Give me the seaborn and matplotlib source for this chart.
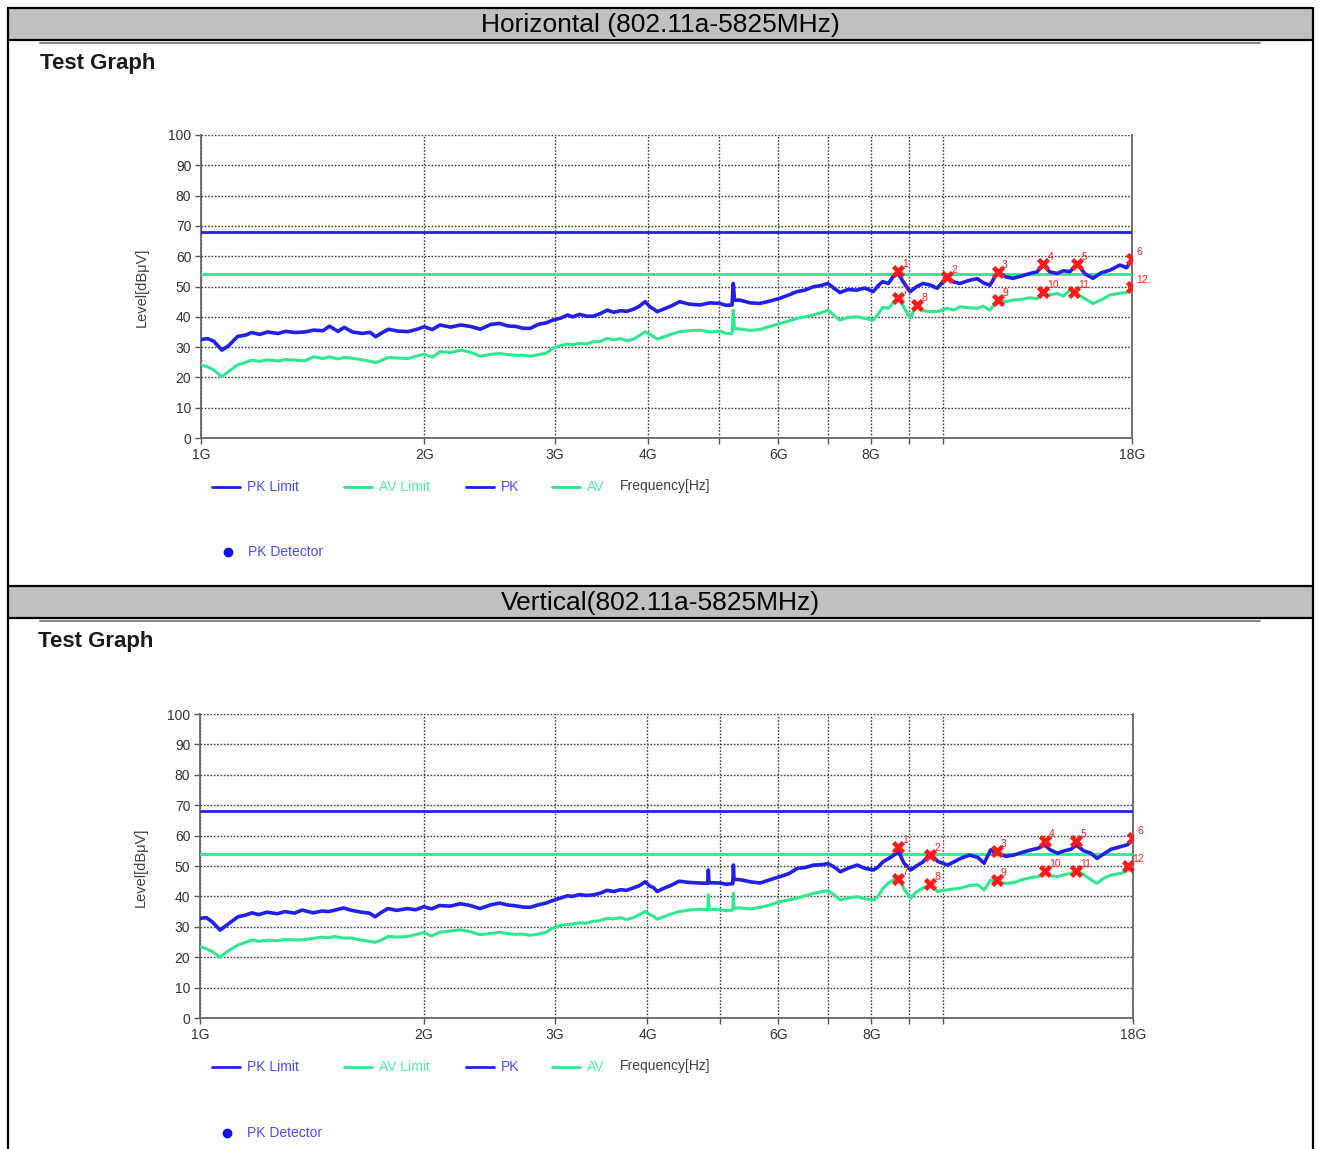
import pandas as pd
import matplotlib.pyplot as plt
import seaborn as sns
from matplotlib.patches import Rectangle
from matplotlib.lines import Line2D

# ### Chart data
PK_LIMIT = 68
AV_LIMIT = 54

# Horizontal polarisation, frequency in GHz, level in dBuV
h_freq = [1.00, 1.02, 1.04, 1.067, 1.09, 1.12, 1.15, 1.17, 1.20, 1.23,
          1.27, 1.30, 1.34, 1.38, 1.42, 1.46, 1.49, 1.53, 1.56, 1.60,
          1.65, 1.69, 1.72, 1.75, 1.79, 1.84, 1.90, 1.95, 2.00, 2.05,
          2.10, 2.17, 2.24, 2.31, 2.38, 2.46, 2.53, 2.59, 2.66, 2.72,
          2.78, 2.85, 2.92, 2.98, 3.05, 3.12, 3.17, 3.24, 3.31, 3.38,
          3.45, 3.53, 3.60, 3.68, 3.75, 3.83, 3.90, 3.97, 4.03, 4.08,
          4.12, 4.20, 4.30, 4.42, 4.55, 4.71, 4.85, 5.01, 5.10, 5.20,
          5.22, 5.24, 5.33, 5.50, 5.67, 5.85, 6.03, 6.20, 6.36, 6.52,
          6.69, 6.85, 7.00, 7.14, 7.27, 7.45, 7.66, 7.85, 8.06, 8.18,
          8.30, 8.45, 8.57, 8.71, 8.85, 9.04, 9.23, 9.41, 9.62, 9.83,
          10.14, 10.35, 10.55, 10.85, 11.13, 11.35, 11.58, 11.87, 12.15, 12.44,
          12.78, 13.12, 13.40, 13.66, 13.95, 14.26, 14.55, 14.85, 15.18, 15.55,
          15.94, 16.35, 16.81, 17.34, 17.70, 18.00]
h_pk = [32.5, 32.8, 32.0, 29.0, 30.5, 33.5, 34.0, 34.8, 34.2, 35.0,
        34.5, 35.2, 34.8, 35.0, 35.6, 35.4, 36.9, 35.2, 36.5, 35.0,
        34.5, 34.9, 33.4, 34.6, 35.9, 35.3, 35.1, 35.8, 36.7, 35.8,
        37.3, 36.6, 37.3, 36.8, 35.9, 37.5, 37.8, 37.0, 36.8, 36.2,
        36.2, 37.5, 38.0, 38.9, 39.5, 40.6, 40.0, 40.8, 40.2, 40.2,
        41.0, 42.2, 41.5, 42.0, 41.8, 42.5, 43.5, 45.0, 43.3, 42.5,
        41.7, 42.5, 43.5, 45.0, 44.2, 43.9, 44.6, 44.4, 43.8, 43.9,
        51.0, 45.5, 45.5, 44.6, 44.4, 45.2, 46.1, 47.2, 48.3, 48.8,
        49.9, 50.3, 51.0, 49.4, 48.0, 49.0, 48.8, 49.5, 48.3, 50.2,
        51.6, 51.0, 53.2, 54.3, 51.5, 48.3, 50.0, 51.0, 50.5, 49.4,
        53.2, 51.5, 51.0, 52.0, 52.6, 51.2, 50.4, 54.9, 53.2, 52.7,
        53.5, 54.3, 54.8, 57.1, 54.8, 54.3, 55.2, 54.9, 57.6, 54.2,
        52.7, 54.5, 55.4, 57.1, 56.2, 58.7]
h_av = [24.1, 23.5, 22.5, 20.2, 22.0, 24.1, 25.0, 25.7, 25.3, 25.8,
        25.4, 25.9, 25.7, 25.5, 26.8, 26.2, 26.8, 26.1, 26.6, 26.3,
        25.8, 25.3, 24.9, 25.6, 26.6, 26.4, 26.2, 27.0, 27.7, 26.6,
        28.5, 28.2, 29.0, 28.3, 27.0, 27.6, 27.9, 27.5, 27.3, 27.3,
        27.0, 27.5, 28.0, 29.6, 30.5, 31.0, 30.8, 31.2, 31.0, 31.8,
        31.8, 32.9, 32.4, 32.8, 32.1, 32.6, 33.8, 35.1, 34.2, 33.4,
        32.6, 33.3, 34.2, 35.1, 35.4, 35.6, 35.0, 35.3, 34.5, 34.5,
        42.2, 36.1, 36.0, 35.5, 35.8, 36.8, 37.8, 38.6, 39.5, 40.0,
        40.6, 41.3, 42.2, 40.5, 38.9, 39.8, 40.0, 39.5, 38.9, 40.8,
        43.1, 42.8, 44.5, 46.6, 43.5, 39.5, 44.0, 42.0, 41.7, 41.7,
        42.8, 42.2, 43.3, 43.0, 42.8, 43.5, 42.2, 45.5, 45.0, 45.5,
        45.8, 46.3, 46.0, 47.7, 47.2, 47.7, 46.8, 48.8, 47.5, 46.0,
        44.4, 45.5, 47.2, 47.8, 48.0, 49.4]
h_pk_mark_freq = [8.71, 10.14, 11.87, 13.66, 15.18, 18.0]
h_pk_mark_level = [55.1, 53.1, 54.8, 57.4, 57.4, 59.1]
h_av_mark_freq = [8.71, 9.23, 11.87, 13.66, 15.05, 18.0]
h_av_mark_level = [46.2, 43.9, 45.5, 48.2, 48.2, 49.8]

# Vertical polarisation
v_freq = [1.00, 1.02, 1.04, 1.064, 1.09, 1.125, 1.15, 1.175, 1.20, 1.23,
          1.27, 1.30, 1.34, 1.372, 1.42, 1.46, 1.49, 1.519, 1.56, 1.60,
          1.65, 1.69, 1.72, 1.75, 1.79, 1.84, 1.90, 1.95, 2.00, 2.05,
          2.10, 2.17, 2.24, 2.31, 2.38, 2.46, 2.53, 2.59, 2.66, 2.72,
          2.78, 2.85, 2.92, 2.98, 3.05, 3.12, 3.17, 3.24, 3.31, 3.38,
          3.45, 3.53, 3.60, 3.68, 3.75, 3.83, 3.90, 3.97, 4.03, 4.08,
          4.12, 4.20, 4.30, 4.41, 4.55, 4.70, 4.82, 4.83, 4.84, 5.01,
          5.10, 5.21, 5.22, 5.23, 5.33, 5.50, 5.67, 5.85, 6.03, 6.20,
          6.36, 6.52, 6.69, 6.85, 7.00, 7.14, 7.27, 7.45, 7.66, 7.85,
          8.06, 8.18, 8.30, 8.45, 8.57, 8.71, 8.85, 9.04, 9.20, 9.40,
          9.60, 9.83, 10.14, 10.55, 10.85, 11.13, 11.35, 11.58, 11.85, 12.15,
          12.44, 12.78, 13.12, 13.40, 13.70, 13.95, 14.26, 14.55, 14.85, 15.10,
          15.45, 15.80, 16.10, 16.45, 16.81, 17.34, 17.70, 18.00]
v_pk = [32.8, 33.0, 31.5, 28.9, 30.8, 33.3, 33.8, 34.6, 34.0, 34.8,
        34.3, 35.0, 34.5, 35.5, 34.6, 35.2, 35.0, 35.5, 36.2, 35.4,
        34.8, 34.5, 33.3, 34.6, 36.0, 35.4, 36.0, 35.6, 36.6, 35.9,
        37.0, 36.8, 37.6, 37.0, 36.0, 37.2, 37.8, 37.2, 36.9, 36.5,
        36.4, 37.2, 37.8, 38.6, 39.4, 40.2, 40.0, 40.6, 40.3, 40.5,
        41.0, 42.0, 41.6, 42.2, 42.0, 42.8, 43.5, 44.8, 43.4, 42.8,
        41.6, 42.6, 43.6, 45.0, 44.6, 44.4, 44.3, 48.7, 44.5, 44.4,
        44.0, 44.2, 50.3, 45.6, 45.5, 44.8, 44.4, 45.5, 46.5, 47.5,
        49.2, 49.5, 50.3, 50.4, 50.8, 49.6, 48.1, 49.3, 50.3, 49.2,
        48.7, 49.8, 51.4, 52.5, 53.5, 54.7, 51.0, 48.7, 50.0, 51.4,
        54.2, 51.5, 50.3, 52.5, 53.6, 52.8, 50.9, 55.3, 54.0, 53.2,
        53.6, 54.5, 55.3, 55.8, 56.9, 55.2, 54.2, 55.0, 55.5, 56.9,
        55.0, 54.2, 52.5, 54.0, 55.5, 56.4, 57.0, 59.2]
v_av = [23.5, 22.8, 21.8, 20.0, 22.0, 24.0, 24.8, 25.7, 25.2, 25.6,
        25.4, 25.8, 25.7, 25.7, 26.2, 26.6, 26.4, 26.8, 26.3, 26.3,
        25.6, 25.2, 24.9, 25.5, 26.8, 26.6, 26.8, 27.4, 28.1, 27.0,
        28.2, 28.6, 29.0, 28.4, 27.4, 27.8, 28.2, 27.8, 27.5, 27.6,
        27.2, 27.6, 28.2, 29.5, 30.4, 30.8, 30.9, 31.3, 31.2, 31.8,
        32.0, 32.8, 32.6, 33.0, 32.4, 33.0, 34.0, 35.0, 34.0, 33.4,
        32.5, 33.2, 34.2, 35.0, 35.5, 35.8, 35.6, 40.5, 35.8, 35.6,
        35.3, 35.5, 41.0, 36.1, 36.2, 35.9, 36.4, 37.2, 38.3, 38.8,
        39.4, 40.2, 41.0, 41.5, 41.9, 40.4, 38.8, 39.5, 39.9, 39.2,
        38.8, 40.2, 42.7, 44.5, 45.5, 46.5, 42.5, 39.4, 41.5, 42.8,
        43.8, 41.6, 42.2, 42.7, 43.6, 43.8, 42.1, 45.4, 44.6, 44.3,
        44.5, 45.5, 46.2, 46.5, 47.6, 46.8, 46.5, 47.2, 47.5, 48.7,
        47.2, 45.5, 44.3, 46.0, 47.0, 47.6, 48.4, 49.8]
v_pk_mark_freq = [8.70, 9.60, 11.80, 13.70, 15.10, 18.0]
v_pk_mark_level = [56.3, 53.6, 54.9, 58.2, 58.2, 59.2]
v_av_mark_freq = [8.70, 9.60, 11.80, 13.70, 15.10, 17.72]
v_av_mark_level = [45.7, 44.1, 45.4, 48.4, 48.4, 50.0]

x_ticks = [1, 2, 3, 4, 5, 6, 7, 8, 9, 10, 18]
x_tick_labels = ["1G", "2G", "3G", "4G", "", "6G", "", "8G", "", "", "18G"]
y_ticks = list(range(0, 101, 10))

PK_COLOR = "#2020e8"
AV_COLOR = "#2ee88f"
MARK_COLOR = "#ff1a1a"

W, H = 1321, 1149

sns.set_theme(style="white")
plt.rcParams['font.family'] = ['Liberation Sans', 'DejaVu Sans']

fig = plt.figure(figsize=(W / 100, H / 100), dpi=100)
fig.patch.set_facecolor("white")


def fx(x):
    return x / W


def fy(y):
    return 1 - y / H


def hline(x0, x1, y, color, lw):
    fig.add_artist(Line2D([fx(x0), fx(x1)], [fy(y), fy(y)], color=color,
                          lw=lw, transform=fig.transFigure))


def header(y0, y1, title):
    fig.add_artist(Rectangle((fx(8), fy(y1)), fx(1313) - fx(8),
                             fy(y0) - fy(y1), transform=fig.transFigure,
                             facecolor="#c0c0c0", edgecolor="none"))
    hline(8, 1313, y0, "black", 1.6)
    hline(8, 1313, y1, "black", 1.6)
    hline(40, 1260, y1 + 2.5, "#8a8a8a", 1.5)
    fig.text(fx(660), fy((y0 + y1) / 2 + 1), title, ha="center",
             va="center", fontsize=19, color="black")


def legend_block(y_line, y_det, det_x):
    items = [(212, "PK Limit", PK_COLOR, "#4b4bff"),
             (344, "AV Limit", AV_COLOR, "#4cf0a4"),
             (466, "PK", PK_COLOR, "#4b4bff"),
             (552, "AV", AV_COLOR, "#4cf0a4")]
    for x0, label, lc, tc in items:
        hline(x0, x0 + 28, y_line, lc, 2)
        fig.text(fx(x0 + 35), fy(y_line), label, ha="left", va="center",
                 fontsize=10, color=tc)
    fig.text(fx(620), fy(y_line - 1), "Frequency[Hz]", ha="left",
             va="center", fontsize=10, color="#404040")
    fig.add_artist(Line2D([fx(det_x)], [fy(y_det)], marker="o", ms=6,
                          color="#1010f0", transform=fig.transFigure))
    fig.text(fx(det_x + 20), fy(y_det), "PK Detector", ha="left",
             va="center", fontsize=10, color="#4b4bff")


def draw_panel(ax, freq, pk, av, pk_mf, pk_mv, av_mf, av_mv):
    df = pd.DataFrame({"freq": freq, "PK": pk, "AV": av})
    ax.axhline(PK_LIMIT, color=PK_COLOR, lw=2, zorder=3)
    ax.axhline(AV_LIMIT, color=AV_COLOR, lw=2, zorder=3)
    sns.lineplot(data=df, x="freq", y="AV", ax=ax, color=AV_COLOR, lw=2.2,
                 sort=False, estimator=None, zorder=3)
    sns.lineplot(data=df, x="freq", y="PK", ax=ax, color=PK_COLOR, lw=2.6,
                 sort=False, estimator=None, zorder=4)
    marks = pd.DataFrame({"freq": pk_mf + av_mf, "level": pk_mv + av_mv})
    sns.scatterplot(data=marks, x="freq", y="level", ax=ax, marker="X",
                    s=90, color=MARK_COLOR, linewidth=0, zorder=6)
    for i, (f, v) in enumerate(zip(marks["freq"], marks["level"])):
        ax.annotate(str(i + 1), (f, v), xytext=(3, 3),
                    textcoords="offset points", color=MARK_COLOR,
                    fontsize=7.5, zorder=7, annotation_clip=False)

    ax.set_xscale("log")
    ax.set_xlim(1, 18)
    ax.set_ylim(0, 100)
    ax.set_xticks(x_ticks)
    ax.set_xticklabels(x_tick_labels)
    ax.minorticks_off()
    ax.set_yticks(y_ticks)
    ax.grid(True, color="#404040", linestyle=(0, (1.2, 1.2)), lw=1)
    ax.tick_params(axis="both", labelsize=10, labelcolor="#333333",
                   length=4, width=1, color="#555555", pad=3,
                   bottom=True, left=True)
    for side in ["left", "bottom", "right"]:
        ax.spines[side].set_color("#666666")
        ax.spines[side].set_linewidth(1.3)
    ax.spines["top"].set_visible(False)
    ax.set_xlabel("")
    ax.set_ylabel("")


# Outer table frame
fig.add_artist(Line2D([fx(8), fx(8)], [fy(8), 0], color="black", lw=1.6,
                      transform=fig.transFigure))
fig.add_artist(Line2D([fx(1313), fx(1313)], [fy(8), 0], color="black",
                      lw=1.6, transform=fig.transFigure))

# Horizontal panel
header(8, 40, "Horizontal (802.11a-5825MHz)")
fig.text(fx(40), fy(63), "Test Graph", ha="left", va="center",
         fontsize=16, fontweight="bold", color="#1a1a1a")
ax1 = fig.add_axes([fx(201), fy(438), fx(1132) - fx(201),
                    fy(135) - fy(438)])
draw_panel(ax1, h_freq, h_pk, h_av, h_pk_mark_freq, h_pk_mark_level,
           h_av_mark_freq, h_av_mark_level)
fig.text(fx(142), fy(287), "Level[dB\u03bcV]", rotation=90, ha="center",
         va="center", fontsize=10.5, color="#404040")
legend_block(487, 552, 228)

# Vertical panel
header(586, 618, "Vertical(802.11a-5825MHz)")
fig.text(fx(38), fy(642), "Test Graph", ha="left", va="center",
         fontsize=16, fontweight="bold", color="#1a1a1a")
ax2 = fig.add_axes([fx(200), fy(1018), fx(1133) - fx(200),
                    fy(714) - fy(1018)])
draw_panel(ax2, v_freq, v_pk, v_av, v_pk_mark_freq, v_pk_mark_level,
           v_av_mark_freq, v_av_mark_level)
fig.text(fx(141), fy(867), "Level[dB\u03bcV]", rotation=90, ha="center",
         va="center", fontsize=10.5, color="#404040")
legend_block(1067, 1133, 227)

fig.savefig("out.png", dpi=100, facecolor="white")
